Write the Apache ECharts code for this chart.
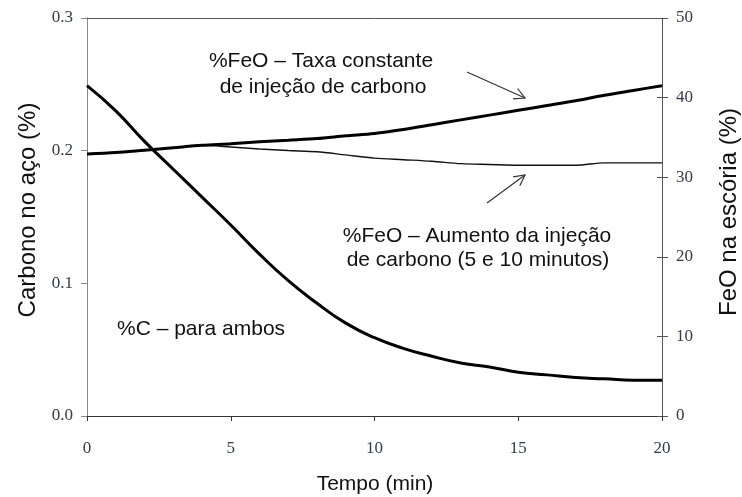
<!DOCTYPE html>
<html>
<head>
<meta charset="utf-8">
<script src="https://cdn.jsdelivr.net/npm/echarts@6/dist/echarts.min.js"></script>
<style>html,body{margin:0;padding:0;background:#fff}#c{width:742px;height:497px}</style>
</head>
<body>
<div id="c"></div>
<script>
// ---- data ----
const tempo = [0,1,2,3,4,5,6,7,8,9,10,11,12,13,14,15,16,17,18,19,20];
const carbono = [0.249,0.230,0.207,0.186,0.165,0.144,0.122,0.102,0.085,0.070,0.059,0.051,0.045,0.040,0.037,0.033,0.031,0.029,0.028,0.027,0.027];
const feoConstante = [32.9,33.1,33.4,33.7,34.0,34.2,34.45,34.65,34.85,35.2,35.5,36.0,36.6,37.2,37.8,38.4,39.0,39.6,40.3,40.9,41.5];
const feoAumento = [32.9,33.1,33.4,33.7,34.0,33.8,33.55,33.35,33.2,32.8,32.4,32.2,32.0,31.7,31.6,31.5,31.5,31.5,31.8,31.8,31.8];
const xTicks = [0,5,10,15,20];
const leftTicks = [0.0,0.1,0.2,0.3];
const rightTicks = [0,10,20,30,40,50];

const pairs = (ys) => tempo.map((t,i)=>[t, ys[i]]);
const tickFont = {fontFamily:'Liberation Serif', fontSize:17, color:'#333a48'};
const annFont = {fontFamily:'Liberation Sans, Arial', fontSize:21, fill:'#111'};
const gridRect = {left:87, right:80, top:18, bottom:81};

const chart = echarts.init(document.getElementById('c'), null, {renderer:'canvas'});
const option = {
  animation:false,
  backgroundColor:'#fff',
  grid:[{...gridRect}],
  xAxis:[{
    type:'value', min:xTicks[0], max:xTicks[xTicks.length-1], interval:5,
    axisLine:{show:true, onZero:false, lineStyle:{color:'#333', width:1}},
    axisTick:{show:true, inside:false, length:5, lineStyle:{color:'#333'}},
    axisLabel:{margin:24, ...tickFont},
    splitLine:{show:false}
  },{
    type:'value', position:'top', min:0, max:20,
    axisLine:{show:true, onZero:false, lineStyle:{color:'#555', width:1}},
    axisTick:{show:false}, axisLabel:{show:false}, splitLine:{show:false}
  }],
  yAxis:[{
    type:'value', position:'left', min:leftTicks[0], max:leftTicks[leftTicks.length-1], interval:0.1,
    axisLine:{show:true, onZero:false, lineStyle:{color:'#888', width:1}},
    axisTick:{show:true, inside:false, length:6, lineStyle:{color:'#888'}},
    axisLabel:{margin:14, formatter:(v)=>v.toFixed(1), ...tickFont},
    splitLine:{show:false}
  },{
    type:'value', position:'right', min:rightTicks[0], max:rightTicks[rightTicks.length-1], interval:10,
    axisLine:{show:true, onZero:false, lineStyle:{color:'#555', width:1}},
    axisTick:{show:true, inside:false, length:6, lineStyle:{color:'#555'}},
    axisLabel:{margin:14, ...tickFont},
    splitLine:{show:false}
  },{
    type:'value', position:'right', min:0, max:50, interval:10,
    axisLine:{show:false, onZero:false},
    axisTick:{show:true, inside:true, length:5, lineStyle:{color:'#555'}},
    axisLabel:{show:false},
    splitLine:{show:false}
  }],
  series:[{
    name:'%FeO – Aumento', type:'line', yAxisIndex:1, data:pairs(feoAumento),
    smooth:0.3, showSymbol:false, lineStyle:{color:'#111', width:1.4}
  },{
    name:'%FeO – Taxa constante', type:'line', yAxisIndex:1, data:pairs(feoConstante),
    smooth:0.3, showSymbol:false, lineStyle:{color:'#000', width:3}
  },{
    name:'%C', type:'line', yAxisIndex:0, data:pairs(carbono),
    smooth:0.5, showSymbol:false, lineStyle:{color:'#000', width:3}
  }],
  graphic:[
    {type:'text', x:28, y:210, rotation:Math.PI/2, style:{text:'Carbono no aço (%)', fontFamily:'Liberation Sans, Arial', fontSize:24, fill:'#111', align:'center', verticalAlign:'middle'}},
    {type:'text', x:729, y:212, rotation:Math.PI/2, style:{text:'FeO na escória (%)', fontFamily:'Liberation Sans, Arial', fontSize:24, fill:'#111', align:'center', verticalAlign:'middle'}},
    {type:'text', x:375, y:484, style:{text:'Tempo (min)', fontFamily:'Liberation Sans, Arial', fontSize:21, fill:'#111', align:'center', verticalAlign:'middle'}},
    {type:'text', x:321, y:61, style:{text:'%FeO – Taxa constante', ...annFont, align:'center', verticalAlign:'middle'}},
    {type:'text', x:323, y:87, style:{text:'de injeção de carbono', ...annFont, align:'center', verticalAlign:'middle'}},
    {type:'text', x:477, y:236, style:{text:'%FeO – Aumento da injeção', ...annFont, align:'center', verticalAlign:'middle'}},
    {type:'text', x:478, y:260, style:{text:'de carbono (5 e 10 minutos)', ...annFont, align:'center', verticalAlign:'middle'}},
    {type:'text', x:117, y:329, style:{text:'%C – para ambos', ...annFont, align:'left', verticalAlign:'middle'}},
    {type:'line', shape:{x1:467, y1:72, x2:525, y2:98}, style:{stroke:'#333', lineWidth:1.2}},
    {type:'polyline', shape:{points:[[517.6,88.5],[525,98],[513,98.8]]}, style:{stroke:'#333', lineWidth:1.2, fill:null}},
    {type:'line', shape:{x1:487, y1:203, x2:525, y2:175}, style:{stroke:'#333', lineWidth:1.2}},
    {type:'polyline', shape:{points:[[513.1,176.8],[525,175],[519.8,185.8]]}, style:{stroke:'#333', lineWidth:1.2, fill:null}}
  ]
};
chart.setOption(option);
</script>
</body>
</html>
